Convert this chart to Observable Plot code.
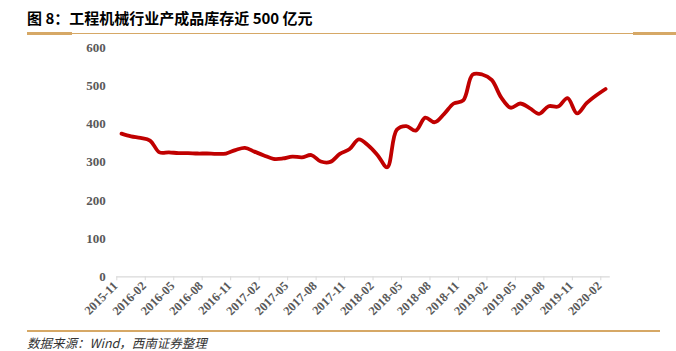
<!DOCTYPE html>
<html><head><meta charset="utf-8">
<script src="https://cdn.jsdelivr.net/npm/d3@7"></script>
<script src="https://cdn.jsdelivr.net/npm/@observablehq/plot@0.6"></script>
<style>
body{margin:0;background:#fff;}
#wrap{position:relative;width:676px;height:351px;font-family:"Noto Sans CJK SC",sans-serif;}
#title{position:absolute;left:27px;top:8px;font-size:15px;font-weight:bold;color:#000;line-height:20px;white-space:nowrap;}
.ln{position:absolute;background:#D6A866;}
#chart{position:absolute;left:0;top:40px;}
#src{position:absolute;left:27px;top:336px;font-size:12.5px;font-style:italic;color:#333;line-height:13px;white-space:nowrap;}
</style>
</head><body>
<div id="wrap">
  <div id="title">图 8：工程机械行业产成品库存近 500 亿元</div>
  <div class="ln" style="left:27px;top:31.5px;width:45px;height:3px;"></div>
  <div class="ln" style="left:72px;top:32.5px;width:561px;height:1px;"></div>
  <div class="ln" style="left:633px;top:31.5px;width:43px;height:3px;"></div>
  <div id="chart"></div>
  <div class="ln" style="left:27px;top:329.5px;width:633px;height:2px;"></div>
  <div id="src">数据来源：Wind，西南证券整理</div>
</div>
<script>
const months = [
  "2015-11","2015-12","2016-01","2016-02","2016-03","2016-04","2016-05","2016-06","2016-07","2016-08","2016-09","2016-10",
  "2016-11","2016-12","2017-01","2017-02","2017-03","2017-04","2017-05","2017-06","2017-07","2017-08","2017-09","2017-10",
  "2017-11","2017-12","2018-01","2018-02","2018-03","2018-04","2018-05","2018-06","2018-07","2018-08","2018-09","2018-10",
  "2018-11","2018-12","2019-01","2019-02","2019-03","2019-04","2019-05","2019-06","2019-07","2019-08","2019-09","2019-10",
  "2019-11","2019-12","2020-01","2020-02"
];
const inventory = [
  375,368,364,357,326,326,324,324,323,323,322,323,
  332,338,328,318,309,310,315,313,319,302,301,322,
  334,360,344,318,287,385,395,383,417,405,427,454,
  462,530,530,516,470,443,454,442,427,447,446,468,
  428,455,475,492
];
const tickLabels = ["2015-11","2016-02","2016-05","2016-08","2016-11","2017-02","2017-05","2017-08","2017-11",
  "2018-02","2018-05","2018-08","2018-11","2019-02","2019-05","2019-08","2019-11","2020-02"];
const yTicks = [0,100,200,300,400,500,600];

const data = months.map((m, i) => ({i, month: m, value: inventory[i]}));
const labelIdx = tickLabels.map(l => months.indexOf(l));
const boundaryIdx = labelIdx.map(i => i - 0.5);

const chart = Plot.plot({
  width: 676,
  height: 286,
  marginTop: 7.3,
  marginBottom: 49.7,
  marginLeft: 116.3,
  marginRight: 66.2,
  style: {fontFamily: "'Liberation Serif', serif", fontSize: "13px", fontWeight: "bold", color: "#595959", background: "#fff"},
  x: {domain: [-0.5, months.length - 0.5]},
  y: {domain: [0, 600]},
  marks: [
    Plot.ruleY([0], {stroke: "#d9d9d9", strokeWidth: 1.2}),
    Plot.axisX({ticks: boundaryIdx, tickFormat: () => "", tickSize: 4, stroke: "#d9d9d9", label: null}),
    Plot.axisX({ticks: labelIdx, tickFormat: i => months[i], tickSize: 0, tickPadding: 7, tickRotate: -45, dx: -6, fontSize: 12.5, label: null, fill: "#595959"}),
    Plot.axisY({ticks: yTicks, tickSize: 0, tickPadding: 11, fontSize: 13, label: null, fill: "#595959"}),
    Plot.line(data, {x: "i", y: "value", curve: "catmull-rom", stroke: "#C00000", strokeWidth: 3.8, strokeLinejoin: "round", strokeLinecap: "round"})
  ]
});
document.getElementById("chart").appendChild(chart);
</script>
</body></html>
